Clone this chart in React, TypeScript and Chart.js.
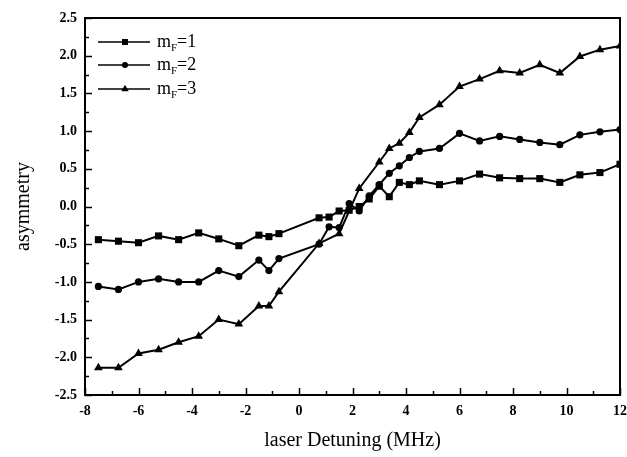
import React, { useEffect, useRef } from 'react';
import { Chart, registerables } from 'chart.js';

Chart.register(...registerables);

// Laser detuning (MHz)
const detuning = [-7.5, -6.75, -6, -5.25, -4.5, -3.75, -3, -2.25, -1.5, -1.125, -0.75, 0.75, 1.125, 1.5, 1.875, 2.25, 2.625, 3, 3.375, 3.75, 4.125, 4.5, 5.25, 6, 6.75, 7.5, 8.25, 9, 9.75, 10.5, 11.25, 12];
// asymmetry for m_F = 1, 2, 3
const mF1 = [-0.44, -0.46, -0.48, -0.39, -0.44, -0.35, -0.43, -0.52, -0.38, -0.40, -0.36, -0.15, -0.14, -0.06, -0.05, 0.0, 0.10, 0.27, 0.13, 0.32, 0.29, 0.34, 0.29, 0.34, 0.43, 0.38, 0.37, 0.37, 0.32, 0.42, 0.45, 0.56];
const mF2 = [-1.06, -1.10, -1.00, -0.96, -1.00, -1.00, -0.85, -0.93, -0.71, -0.85, -0.69, -0.50, -0.27, -0.28, 0.04, -0.06, 0.14, 0.29, 0.44, 0.54, 0.65, 0.73, 0.77, 0.97, 0.87, 0.93, 0.89, 0.85, 0.82, 0.95, 0.99, 1.02];
const mF3 = [-2.14, -2.14, -1.95, -1.90, -1.80, -1.72, -1.50, -1.56, -1.32, -1.32, -1.13, -0.49, null, -0.36, null, 0.24, null, 0.59, 0.77, 0.84, 0.98, 1.18, 1.35, 1.59, 1.69, 1.80, 1.77, 1.88, 1.77, 1.99, 2.08, 2.13];

const seriesNames = ['1', '2', '3'];
const seriesValues = [mF1, mF2, mF3];
const pointStyles = ['rect', 'circle', 'triangle'];
const pointRadii = [5, 3.6, 5];

const X_MIN = -8, X_MAX = 12, X_STEP = 2, X_MINOR = 1;
const Y_MIN = -2.5, Y_MAX = 2.5, Y_STEP = 0.5, Y_MINOR = 0.25;

const SERIF = '"Liberation Serif", "DejaVu Serif", serif';

function drawMarker(ctx: CanvasRenderingContext2D, style: string, x: number, y: number, r: number) {
  ctx.beginPath();
  if (style === 'rect') {
    const s = r * Math.SQRT1_2;
    ctx.rect(x - s, y - s, 2 * s, 2 * s);
  } else if (style === 'circle') {
    ctx.arc(x, y, r, 0, Math.PI * 2);
  } else {
    ctx.moveTo(x, y - r);
    ctx.lineTo(x + Math.sin(2 * Math.PI / 3) * r, y - Math.cos(2 * Math.PI / 3) * r);
    ctx.lineTo(x + Math.sin(4 * Math.PI / 3) * r, y - Math.cos(4 * Math.PI / 3) * r);
    ctx.closePath();
  }
  ctx.fill();
}

const framePlugin = {
  id: 'frameTicksLegend',
  afterDraw(chart: any) {
    const { ctx, chartArea: a, scales } = chart;
    ctx.save();
    ctx.strokeStyle = '#000';
    ctx.fillStyle = '#000';
    ctx.lineWidth = 2;
    ctx.strokeRect(a.left, a.top, a.right - a.left, a.bottom - a.top);
    ctx.lineWidth = 1.5;
    // x ticks (inward)
    const nx = Math.round((X_MAX - X_MIN) / X_MINOR);
    for (let i = 0; i <= nx; i++) {
      const v = X_MIN + i * X_MINOR;
      const px = Math.round(scales.x.getPixelForValue(v)) + 0.5;
      const major = Math.abs((v - X_MIN) / X_STEP - Math.round((v - X_MIN) / X_STEP)) < 1e-6;
      const len = major ? 7 : 4;
      ctx.beginPath();
      ctx.moveTo(px, a.bottom);
      ctx.lineTo(px, a.bottom - len);
      ctx.stroke();
    }
    const ny = Math.round((Y_MAX - Y_MIN) / Y_MINOR);
    for (let i = 0; i <= ny; i++) {
      const v = Y_MIN + i * Y_MINOR;
      const py = Math.round(scales.y.getPixelForValue(v)) + 0.5;
      const len = i % 2 === 0 ? 7 : 4;
      ctx.beginPath();
      ctx.moveTo(a.left, py);
      ctx.lineTo(a.left + len, py);
      ctx.stroke();
    }
    // legend
    const rows = [a.top + 24, a.top + 47, a.top + 71];
    for (let i = 0; i < seriesNames.length; i++) {
      const y = rows[i];
      const x0 = a.left + 13, x1 = a.left + 65, xm = a.left + 40;
      ctx.lineWidth = 1.5;
      ctx.beginPath();
      ctx.moveTo(x0, y);
      ctx.lineTo(x1, y);
      ctx.stroke();
      drawMarker(ctx, pointStyles[i], xm, y, pointRadii[i] * 0.85);
      ctx.textBaseline = 'alphabetic';
      ctx.textAlign = 'left';
      let tx = a.left + 72;
      const base = y + 5;
      ctx.font = `18px ${SERIF}`;
      ctx.fillText('m', tx, base);
      tx += ctx.measureText('m').width;
      ctx.font = `11px ${SERIF}`;
      ctx.fillText('F', tx, base + 4);
      tx += ctx.measureText('F').width;
      ctx.font = `18px ${SERIF}`;
      ctx.fillText('=' + seriesNames[i], tx, base);
    }
    ctx.restore();
  },
};

export default function App() {
  const ref = useRef<HTMLCanvasElement | null>(null);
  useEffect(() => {
    document.body.style.margin = '0';
    const canvas = ref.current;
    if (!canvas) return;
    const datasets = seriesValues.map((vals, i) => ({
      label: 'mF=' + seriesNames[i],
      data: detuning.map((x, j) => ({ x, y: vals[j] })),
      borderColor: '#000',
      backgroundColor: '#000',
      borderWidth: 2,
      pointStyle: pointStyles[i],
      pointRadius: pointRadii[i],
      pointBorderWidth: 0,
      pointBackgroundColor: '#000',
      spanGaps: true,
      tension: 0,
    }));
    const chart = new Chart(canvas, {
      type: 'line',
      data: { datasets: datasets as any },
      options: {
        animation: false,
        responsive: false,
        devicePixelRatio: 1,
        layout: { padding: { top: 18, right: 7, left: 0, bottom: 0 } },
        plugins: { legend: { display: false }, tooltip: { enabled: false } },
        scales: {
          x: {
            type: 'linear',
            min: X_MIN,
            max: X_MAX,
            grid: { display: false, drawTicks: false },
            border: { display: false },
            ticks: {
              stepSize: X_STEP,
              padding: 8,
              color: '#000',
              font: { family: SERIF, size: 14, weight: 'bold' },
              callback: (v: any) => String(v),
            },
            title: {
              display: true,
              text: 'laser Detuning (MHz)',
              color: '#000',
              font: { family: SERIF, size: 20 },
              padding: { bottom: 4 },
            },
            afterFit: (s: any) => { s.height = 62; s.paddingRight = 0; s.paddingLeft = 0; },
          },
          y: {
            type: 'linear',
            min: Y_MIN,
            max: Y_MAX,
            grid: { display: false, drawTicks: false },
            border: { display: false },
            ticks: {
              stepSize: Y_STEP,
              padding: 8,
              color: '#000',
              font: { family: SERIF, size: 14, weight: 'bold' },
              callback: (v: any) => Number(v).toFixed(1),
            },
            title: {
              display: true,
              text: 'asymmetry',
              color: '#000',
              font: { family: SERIF, size: 20 },
              padding: { top: 12 },
            },
            afterFit: (s: any) => { s.width = 85; s.paddingTop = 0; s.paddingBottom = 0; },
          },
        },
      },
      plugins: [framePlugin],
    });
    return () => chart.destroy();
  }, []);
  return (
    <div style={{ width: 627, height: 457, background: '#fff' }}>
      <canvas ref={ref} width={627} height={457} />
    </div>
  );
}
